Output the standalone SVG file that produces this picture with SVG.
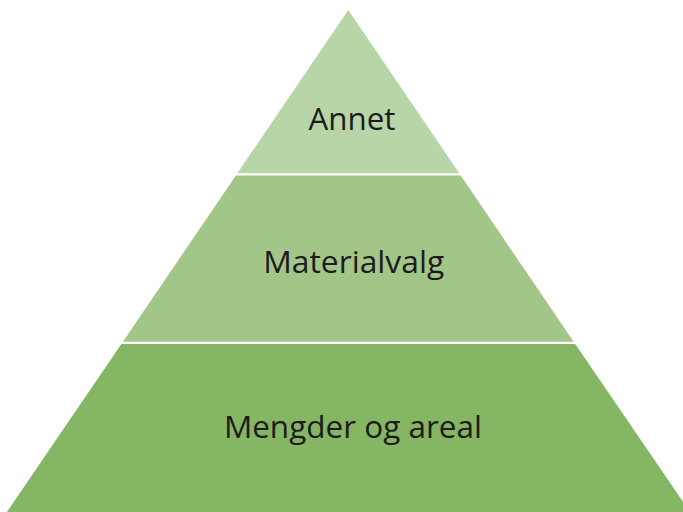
<svg xmlns="http://www.w3.org/2000/svg" width="683" height="512" viewBox="0 0 683 512">
  <style>
    .lbl { font-family: "Open Sans", "Noto Sans", "Liberation Sans", sans-serif; font-size: 31px; font-weight: 400; fill: #1E1B1C; text-anchor: middle; }
  </style>
  <rect width="683" height="512" fill="#FFFFFF"/>
  <g id="tier-top">
    <polygon points="348.3,10 459.3,173.3 237.3,173.3" fill="#B7D5A7"/>
    <text class="lbl" x="352" y="130" textLength="87" lengthAdjust="spacingAndGlyphs">Annet</text>
  </g>
  <g id="tier-middle">
    <polygon points="235.9,175.5 460.7,175.5 573.7,341.7 122.9,341.7" fill="#A2C688"/>
    <text class="lbl" x="353.7" y="273.3" textLength="181" lengthAdjust="spacingAndGlyphs">Materialvalg</text>
  </g>
  <g id="tier-bottom">
    <polygon points="121.4,344 575.2,344 690,512 6.9,512" fill="#84B663"/>
    <text class="lbl" x="352.9" y="438.3" textLength="258" lengthAdjust="spacingAndGlyphs">Mengder og areal</text>
  </g>
  <g id="connectors"/>
</svg>
